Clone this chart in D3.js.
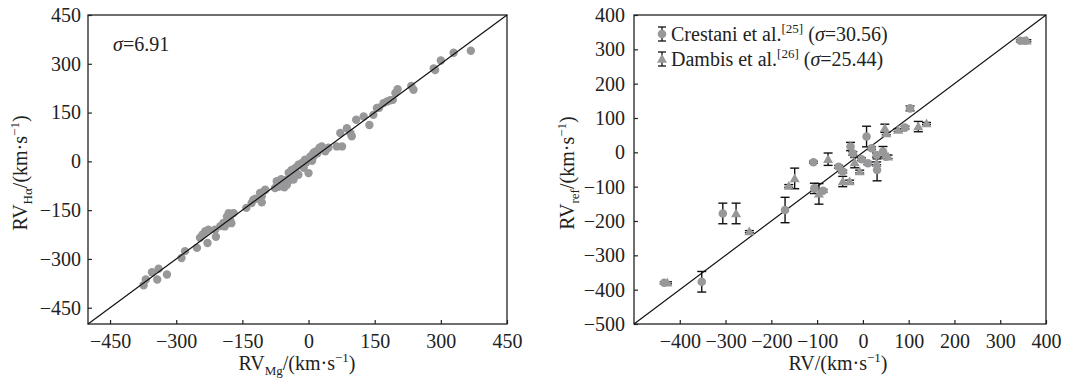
<!DOCTYPE html>
<html>
<head>
<meta charset="utf-8">
<script src="https://cdn.jsdelivr.net/npm/d3@7"></script>
<style>
  body { margin: 0; background: #fff; }
  svg text { font-family: 'Liberation Serif', 'Times New Roman', serif; fill: #222; }
</style>
</head>
<body>
<svg id="chart" width="1070" height="379"></svg>
<script>
// left panel: RV from Mg triplet vs RV from H-alpha
var mgX = [368, 329, 300, 287, 284, 238, 233, 202, 197, 191, 178, 170, 155, 147, 138, 125, 108, 98, 95, 87, 72, 76, 64,
  38, 30, 19, 11, 4, 0, -8, -15, -23, -30, -38, -42, -49, -57, -64, -72, -76, -49, -34, -23, -11, 11, 23,
  -98, -106, -110, -106, -125, -129, -141, -170, -178, -181, -193, -200, -212, -210, -227, -234, -229, -246, -253,
  -280, -288, -321, -340, -343, -355, -369, -374,
  -60, -55, -45, -40, -68, -52, -30, -18, 15, 25, 32, 20, 8, -5, -62, -70, -45, -175, -190, -185, -240, -120, -100, 45, 160, 185];
var haY = [340, 334, 310, 281, 286, 220, 232, 222, 210, 189, 184, 179, 164, 143, 112, 138, 128, 77, 87, 102, 87, 46, 46,
  31, 46, 26, 15, 15, -36, 5, -5, -10, -20, -26, -41, -56, -61, -66, -61, -82, -72, -56, -41, -20, 26, 36,
  -87, -107, -97, -126, -118, -128, -143, -159, -179, -159, -189, -199, -210, -232, -210, -215, -251, -235, -266,
  -276, -297, -348, -330, -363, -341, -363, -381,
  -75, -80, -60, -48, -78, -65, -28, -10, 30, 42, 40, 25, 2, -3, -55, -70, -35, -190, -200, -170, -225, -115, -90, 42, 165, 188];
var leftTicks = [-450, -300, -150, 0, 150, 300, 450];

// right panel: comparison with literature RVs
var cresX = [-306, -352, -170, -108, -106, -87, -53, -44, -27, -22, -3, 8, 19, 11, 30, 31, 44, 51, 92, 103, 355, 344, -434];
var cresY = [-178, -377, -168, -29, -105, -112, -42, -56, 17, -3, -20, 46, 12, -32, -8, -51, 2, -13, 72, 128, 325, 325, -380];
var cresErr = [30, 30, 37, 3, 15, 4, 4, 4, 12, 5, 4, 30, 4, 4, 6, 32, 15, 5, 4, 7, 3, 3, 3];
var damX = [-277, -248, -162, -149, -76, -96, -44, -29, -7, -18, 30, 48, 51, 55, 77, 121, 139, 358, -427];
var damY = [-178, -231, -98, -76, -20, -121, -85, -85, -56, -30, -32, 70, 55, -13, 65, 75, 84, 325, -380];
var damErr = [30, 3, 4, 30, 18, 30, 15, 4, 4, 15, 4, 12, 4, 5, 4, 15, 3, 3, 3];
var rightXTicks = [-400, -300, -200, -100, 0, 100, 200, 300, 400];
var rightYTicks = [-500, -400, -300, -200, -100, 0, 100, 200, 300, 400];

var grey = "#98989a";
var FS = "20px", FSS = "13px";
var svg = d3.select("#chart");
var fmt = d3.format("");

function frame(x, y, xt, yt, ypad) {
  var g = svg.append("g");
  g.append("g").attr("transform", "translate(0," + y.range()[0] + ")")
    .call(d3.axisBottom(x).tickValues(xt).tickSizeInner(-4).tickSizeOuter(0).tickPadding(10).tickFormat(fmt));
  g.append("g").attr("transform", "translate(" + x.range()[0] + ",0)")
    .call(d3.axisLeft(y).tickValues(yt).tickSizeInner(-4).tickSizeOuter(0).tickPadding(ypad).tickFormat(fmt));
  g.selectAll(".domain").remove();
  g.selectAll(".tick line").attr("stroke", "#222").attr("stroke-width", 1.2);
  g.selectAll(".tick text").style("font-size", FS).attr("fill", "#222");
  g.append("rect")
    .attr("x", x.range()[0]).attr("y", y.range()[1])
    .attr("width", x.range()[1] - x.range()[0]).attr("height", y.range()[0] - y.range()[1])
    .attr("fill", "none").attr("stroke", "#222").attr("stroke-width", 1.3);
  return g;
}

function diag(x, y, lo, hi) {
  svg.append("line")
    .attr("x1", x(lo)).attr("y1", y(lo)).attr("x2", x(hi)).attr("y2", y(hi))
    .attr("stroke", "#111").attr("stroke-width", 1.2);
}

// axis title with optional subscript: RV_sub/(km·s^-1)
function title(sel, sub) {
  sel.style("font-size", FS);
  sel.append("tspan").text("RV");
  if (sub) {
    sel.append("tspan").attr("dy", 5).style("font-size", FSS).text(sub);
    sel.append("tspan").attr("dy", -5).text("/(km·s");
  } else {
    sel.append("tspan").text("/(km·s");
  }
  sel.append("tspan").attr("dy", -8).style("font-size", FSS).text("−1");
  sel.append("tspan").attr("dy", 8).text(")");
}

// ---- left
var x1 = d3.scaleLinear().domain([-500, 450]).range([88, 507]);
var y1 = d3.scaleLinear().domain([-500, 450]).range([324, 15]);
frame(x1, y1, leftTicks, leftTicks, 7);

svg.append("g").selectAll("circle").data(mgX).enter().append("circle")
  .attr("cx", function(d) { return x1(d); })
  .attr("cy", function(d, i) { return y1(haY[i]); })
  .attr("r", 4.2).attr("fill", grey);
diag(x1, y1, -500, 450);

svg.append("text").attr("x", 113).attr("y", 51).style("font-size", FS)
  .html('<tspan font-style="italic">σ</tspan>=6.91');

title(svg.append("text").attr("x", 297).attr("y", 370).attr("text-anchor", "middle"), "Mg");
title(svg.append("text").attr("transform", "translate(27,173) rotate(-90)").attr("text-anchor", "middle"), "Hα");

// ---- right
var x2 = d3.scaleLinear().domain([-500, 400]).range([634, 1046]);
var y2 = d3.scaleLinear().domain([-500, 400]).range([324, 15]);
frame(x2, y2, rightXTicks, rightYTicks, 9);
diag(x2, y2, -500, 400);

var tri = d3.symbol().type(d3.symbolTriangle).size(44);

function errBars(xs, ys, es) {
  var g = svg.append("g").attr("stroke", "#111").attr("stroke-width", 1.4);
  xs.forEach(function(v, i) {
    var cx = x2(v), top = y2(ys[i] + es[i]), bot = y2(ys[i] - es[i]);
    g.append("line").attr("x1", cx).attr("x2", cx).attr("y1", top).attr("y2", bot);
    g.append("line").attr("x1", cx - 4.5).attr("x2", cx + 4.5).attr("y1", top).attr("y2", top);
    g.append("line").attr("x1", cx - 4.5).attr("x2", cx + 4.5).attr("y1", bot).attr("y2", bot);
  });
}
errBars(cresX, cresY, cresErr);
errBars(damX, damY, damErr);

svg.append("g").selectAll("circle").data(cresX).enter().append("circle")
  .attr("cx", function(d) { return x2(d); })
  .attr("cy", function(d, i) { return y2(cresY[i]); })
  .attr("r", 4.3).attr("fill", grey);
svg.append("g").selectAll("path").data(damX).enter().append("path")
  .attr("d", tri)
  .attr("transform", function(d, i) { return "translate(" + x2(d) + "," + (y2(damY[i]) + 0.8) + ")"; })
  .attr("fill", grey);

// legend
var legend = [
  { name: "Crestani et al.", ref: "[25]", sig: "30.56", shape: "circle" },
  { name: "Dambis et al.", ref: "[26]", sig: "25.44", shape: "triangle" }
];
legend.forEach(function(L, i) {
  var by = 41 + i * 25, my = by - 7, mx = 662;
  var g = svg.append("g");
  g.append("line").attr("x1", mx).attr("x2", mx).attr("y1", my - 7).attr("y2", my + 7).attr("stroke", "#111").attr("stroke-width", 1.3);
  [my - 7, my + 7].forEach(function(yy) {
    g.append("line").attr("x1", mx - 4).attr("x2", mx + 4).attr("y1", yy).attr("y2", yy).attr("stroke", "#111").attr("stroke-width", 1.3);
  });
  if (L.shape === "circle") g.append("circle").attr("cx", mx).attr("cy", my).attr("r", 4.3).attr("fill", grey);
  else g.append("path").attr("d", tri).attr("transform", "translate(" + mx + "," + (my + 0.8) + ")").attr("fill", grey);
  var t = g.append("text").attr("x", 671).attr("y", by).style("font-size", FS);
  t.append("tspan").text(L.name);
  t.append("tspan").attr("dy", -8).style("font-size", FSS).text(L.ref);
  t.append("tspan").attr("dy", 8).text(" (");
  t.append("tspan").attr("font-style", "italic").text("σ");
  t.append("tspan").text("=" + L.sig + ")");
});

title(svg.append("text").attr("x", 838).attr("y", 370).attr("text-anchor", "middle"), null);
title(svg.append("text").attr("transform", "translate(574,173) rotate(-90)").attr("text-anchor", "middle"), "ref");
</script>
</body>
</html>
